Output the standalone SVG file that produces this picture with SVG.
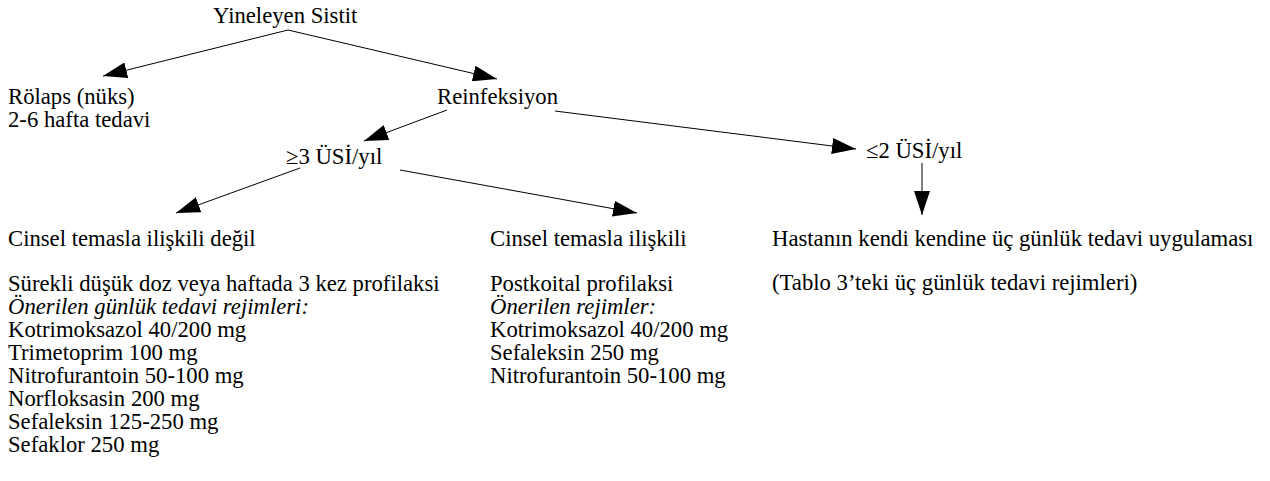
<svg xmlns="http://www.w3.org/2000/svg" width="1270" height="481" viewBox="0 0 1270 481">
<style>
text{font-family:"Liberation Serif","Times New Roman",serif;font-size:22.7px;fill:#000}
.i{font-style:italic}
.c{stroke:#000;stroke-width:1;fill:none}
</style>
<defs>
<marker id="ah" markerUnits="userSpaceOnUse" markerWidth="24" markerHeight="16" viewBox="0 0 24 16" refX="24" refY="8" orient="auto">
<path d="M0,0 L24,8 L0,16 Z" fill="#000"/>
</marker>
</defs>
<rect width="1270" height="481" fill="#fff"/>
<g id="connectors">
<line class="c" x1="288" y1="30" x2="103" y2="76" marker-end="url(#ah)"/>
<line class="c" x1="288" y1="30" x2="497" y2="79" marker-end="url(#ah)"/>
<line class="c" x1="447" y1="110" x2="364" y2="141" marker-end="url(#ah)"/>
<line class="c" x1="555" y1="111" x2="856" y2="149" marker-end="url(#ah)"/>
<line class="c" x1="922" y1="163" x2="922" y2="215" marker-end="url(#ah)"/>
<line class="c" x1="300" y1="168" x2="176" y2="213" marker-end="url(#ah)"/>
<line class="c" x1="400" y1="170" x2="637" y2="213" marker-end="url(#ah)"/>
</g>
<g id="n-root"><text x="213" y="23">Yineleyen Sistit</text></g>
<g id="n-relaps"><text x="8" y="104">Rölaps (nüks)</text><text x="8" y="127">2-6 hafta tedavi</text></g>
<g id="n-reinf"><text x="437" y="104">Reinfeksiyon</text></g>
<g id="n-ge3"><text x="286" y="164">≥3 ÜSİ/yıl</text></g>
<g id="n-le2"><text x="866" y="158">≤2 ÜSİ/yıl</text></g>
<g id="n-nonsex">
<text x="8" y="246">Cinsel temasla ilişkili değil</text>
<text x="8" y="291">Sürekli düşük doz veya haftada 3 kez profilaksi</text>
<text x="8" y="314" class="i">Önerilen günlük tedavi rejimleri:</text>
<text x="8" y="337">Kotrimoksazol 40/200 mg</text>
<text x="8" y="360">Trimetoprim 100 mg</text>
<text x="8" y="383">Nitrofurantoin 50-100 mg</text>
<text x="8" y="406">Norfloksasin 200 mg</text>
<text x="8" y="429">Sefaleksin 125-250 mg</text>
<text x="8" y="452">Sefaklor 250 mg</text>
</g>
<g id="n-sex">
<text x="490" y="246">Cinsel temasla ilişkili</text>
<text x="490" y="291">Postkoital profilaksi</text>
<text x="490" y="314" class="i">Önerilen rejimler:</text>
<text x="490" y="337">Kotrimoksazol 40/200 mg</text>
<text x="490" y="360">Sefaleksin 250 mg</text>
<text x="490" y="383">Nitrofurantoin 50-100 mg</text>
</g>
<g id="n-self">
<text x="772" y="246">Hastanın kendi kendine üç günlük tedavi uygulaması</text>
<text x="772" y="290">(Tablo 3’teki üç günlük tedavi rejimleri)</text>
</g>
</svg>
